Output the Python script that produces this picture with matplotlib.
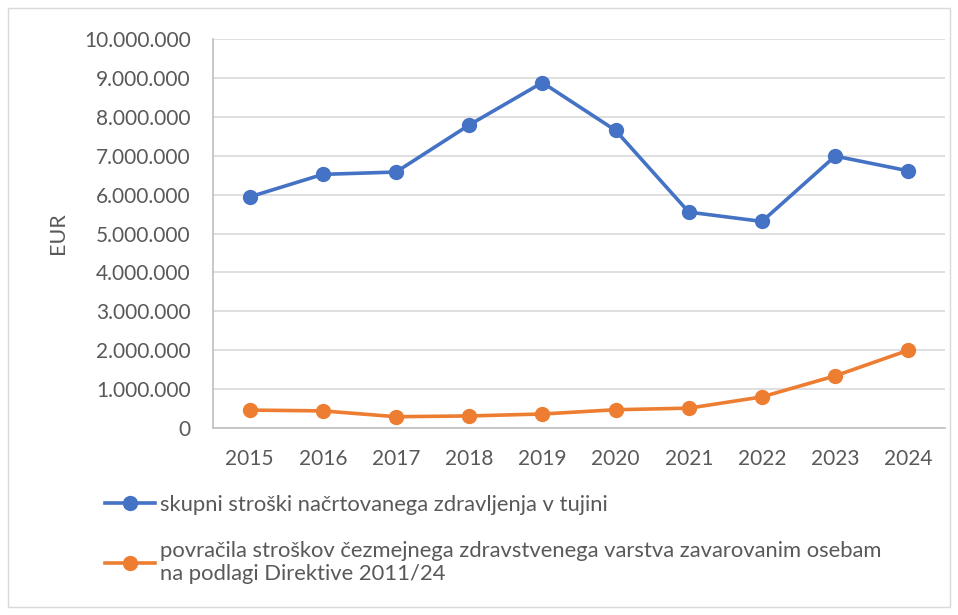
import matplotlib
matplotlib.use("Agg")
import matplotlib.pyplot as plt
from matplotlib.ticker import FuncFormatter, MultipleLocator
from matplotlib.patches import Rectangle

years = ["2015", "2016", "2017", "2018", "2019", "2020", "2021", "2022", "2023", "2024"]
skupni = [5940000, 6520000, 6580000, 7790000, 8880000, 7650000, 5550000, 5310000, 6990000, 6610000]
povracila = [460000, 440000, 290000, 310000, 360000, 470000, 510000, 800000, 1340000, 2000000]
label_skupni = "skupni stroški načrtovanega zdravljenja v tujini"
label_povracila = "povračila stroškov čezmejnega zdravstvenega varstva zavarovanim osebam\nna podlagi Direktive 2011/24"

plt.rcParams['font.family'] = ['Lato', 'DejaVu Sans']

W, H = 958, 615
fig = plt.figure(figsize=(W / 100, H / 100), dpi=100)
ax = fig.add_axes([213 / W, 1 - 428 / H, (945 - 213) / W, (428 - 39) / H])

x = list(range(len(years)))
blue = "#4472C4"
orange = "#ED7D31"
ax.plot(x, skupni, color=blue, lw=2.6, marker="o", ms=10, label=label_skupni, zorder=3)
ax.plot(x, povracila, color=orange, lw=2.6, marker="o", ms=10, label=label_povracila, zorder=3)

ax.set_xlim(-0.5, len(years) - 0.5)
ax.set_ylim(0, 10000000)
ax.yaxis.set_major_locator(MultipleLocator(1000000))
ax.yaxis.set_major_formatter(FuncFormatter(lambda v, p: f"{int(v):,}".replace(",", ".")))
ax.set_xticks(x)
ax.set_xticklabels(years)
ax.grid(axis="y", color="#D9D9D9", lw=1.2)
ax.set_axisbelow(True)
for s in ["top", "right"]:
    ax.spines[s].set_visible(False)
ax.spines["left"].set_color("#BFBFBF")
ax.spines["bottom"].set_color("#BFBFBF")
ax.spines["left"].set_linewidth(1.2)
ax.spines["bottom"].set_linewidth(1.2)
ax.tick_params(axis="both", length=0, labelsize=15, colors="#595959")
ax.tick_params(axis="y", pad=16)
ax.tick_params(axis="x", pad=15)
ax.set_ylabel("EUR", fontsize=15.5, color="#595959")
ax.yaxis.set_label_coords(58 / W, 0.5, transform=fig.transFigure)
ax.yaxis.label.set_verticalalignment("center")
ax.yaxis.label.set_position((58 / W, 1 - 233 / H))

leg = fig.legend(loc="upper left", bbox_to_anchor=(96 / W, 1 - 486 / H), frameon=False,
                 fontsize=15.8, labelcolor="#595959", handlelength=2.3, handletextpad=0.2,
                 labelspacing=1.2, borderaxespad=0)
for t in leg.get_texts():
    t.set_linespacing(1.2)

fig.patches.append(Rectangle((8 / W, 8 / H), (950 - 8) / W, (607 - 8) / H, transform=fig.transFigure,
                             fill=False, edgecolor="#D9D9D9", lw=1))
fig.savefig("out.png", dpi=100)
